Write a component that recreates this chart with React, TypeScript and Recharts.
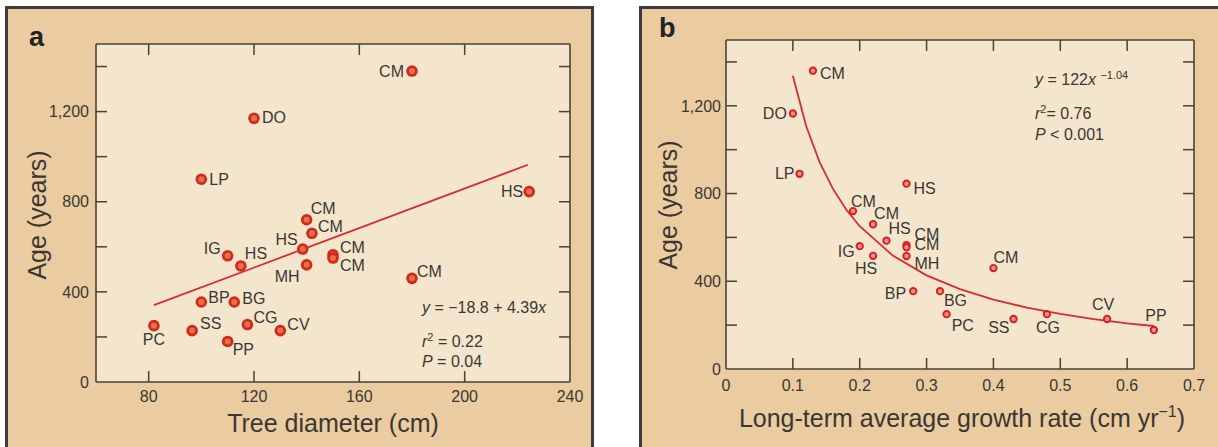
import React from "react";
import { CartesianGrid, Scatter, ScatterChart, XAxis, YAxis } from "recharts";

// Two scatter panels: tree age vs diameter (a) and vs growth rate (b).
// Each panel has a tan card, a paler plot area, inward ticks on all sides.

// ---- panel a: age vs tree diameter ----
const SPECIES_A = ["CM", "DO", "LP", "HS", "CM", "CM", "HS", "MH", "CM", "CM", "CM", "IG", "HS", "BP", "BG", "PC", "SS", "CG", "CV", "PP"];
const DIAMETER_A = [180, 120, 100, 224.5, 140, 142, 138.5, 140, 150, 150, 180, 110, 115, 100, 112.5, 82, 96.5, 117.5, 130, 110];
const AGE_A = [1380, 1170, 900, 845, 720, 660, 590, 520, 565, 550, 460, 560, 515, 355, 355, 250, 228, 255, 228, 180];
const FIT_A_X = [82, 224];
const FIT_A_Y = [341, 964];
const X_TICKS_A = [60, 80, 120, 160, 200, 240];
const Y_TICKS = [0, 200, 400, 600, 800, 1000, 1200, 1400, 1500];

// ---- panel b: age vs long-term growth rate ----
const SPECIES_B = ["CM", "DO", "LP", "HS", "CM", "CM", "HS", "CM", "CM", "MH", "IG", "HS", "BP", "CM", "BG", "PC", "SS", "CG", "CV", "PP"];
const GROWTH_B = [0.13, 0.1, 0.11, 0.27, 0.19, 0.22, 0.24, 0.27, 0.27, 0.27, 0.2, 0.22, 0.28, 0.4, 0.32, 0.33, 0.43, 0.48, 0.57, 0.64];
const AGE_B = [1360, 1165, 890, 845, 720, 660, 585, 565, 555, 515, 560, 516, 355, 460, 355, 250, 228, 250, 228, 178];
const FIT_B_X = [0.1, 0.12, 0.14, 0.16, 0.18, 0.2, 0.25, 0.3, 0.35, 0.4, 0.45, 0.5, 0.55, 0.6, 0.64];
const FIT_B_Y = [1337, 1107, 943, 821, 726, 651, 516, 427, 364, 316, 280, 251, 227, 208, 196];
const X_TICKS_B = [0, 0.1, 0.2, 0.3, 0.4, 0.5, 0.6, 0.7];

// label placement per point: [anchor, dx, dy] (dy = offset of text centre)
type Place = [string, number, number];
const PLACE_A: Place[] = [
  ["end", -8, 0], ["start", 8, -1], ["start", 8, 0], ["end", -6, 0], ["start", 4, -11],
  ["start", 6, -7], ["end", -5, -10], ["end", -7, 12], ["start", 7, -7], ["start", 7, 7],
  ["start", 5, -7], ["end", -7, -7], ["start", 4, -12], ["start", 7, -5], ["start", 8, -4],
  ["middle", 0, 14], ["start", 8, -7], ["start", 6, -7], ["start", 7, -6], ["start", 5, 8],
];
const PLACE_B: Place[] = [
  ["start", 7, 3], ["end", -6, 0], ["end", -5, 0], ["start", 7, 5], ["start", -2, -10],
  ["start", 1, -11], ["start", 2, -12], ["start", 8, -11], ["start", 8, -3], ["start", 8, 7],
  ["end", -5, 5], ["middle", -7, 13], ["end", -7, 2], ["start", 0, -11], ["start", 4, 9],
  ["start", 5, 11], ["end", -4, 9], ["middle", 1, 13], ["middle", -4, -14], ["middle", 2, -14],
];

const FONT = "'Liberation Sans', Arial, Helvetica, sans-serif";
const INK = "#3a3733";
const FRAME = "#4a4038";
const CARD = "#eacca0";
const PLOT = "#f4e6cd";
const RED = "#d52b33";

const pointsA = DIAMETER_A.map((x, i) => ({ x, y: AGE_A[i], name: SPECIES_A[i], place: PLACE_A[i] }));
const pointsB = GROWTH_B.map((x, i) => ({ x, y: AGE_B[i], name: SPECIES_B[i], place: PLACE_B[i] }));
const fitA = FIT_A_X.map((x, i) => ({ x, y: FIT_A_Y[i] }));
const fitB = FIT_B_X.map((x, i) => ({ x, y: FIT_B_Y[i] }));

const labelStyle = { fontFamily: FONT, fontSize: 16, fill: INK };

function PointLabel({ cx, cy, payload }: any) {
  const [anchor, dx, dy] = payload.place as Place;
  return (
    <text x={cx + dx} y={cy + dy + 5.5} textAnchor={anchor as any} style={labelStyle}>
      {payload.name}
    </text>
  );
}

function MarkerA(props: any) {
  const { cx, cy } = props;
  return (
    <g>
      <circle cx={cx} cy={cy} r={5.8} fill="#cf2a1c" />
      <circle cx={cx} cy={cy} r={3} fill="#e7704a" />
      <PointLabel {...props} />
    </g>
  );
}

function MarkerB(props: any) {
  const { cx, cy } = props;
  return (
    <g>
      <circle cx={cx} cy={cy} r={3.2} fill="#ee8f80" stroke="#d41f26" strokeWidth={1.9} />
      <PointLabel {...props} />
    </g>
  );
}

const NoDot = () => <g />;

type Side = "bottom" | "top" | "left" | "right";

// inward tick marks; labels only where asked
function makeTick(side: Side, edges: number[], label: (v: number) => string | null, gap: number) {
  return function Tick(p: any) {
    const v = p.payload.value as number;
    const { x, y } = p;
    const len = 11;
    const edge = edges.includes(v);
    const text = label(v);
    const stroke = { stroke: FRAME, strokeWidth: 1.5 };
    if (side === "bottom") {
      return (
        <g>
          {!edge && <line x1={x} x2={x} y1={y} y2={y - len} {...stroke} />}
          {text != null && (
            <text x={x} y={y + gap} textAnchor="middle" style={labelStyle}>{text}</text>
          )}
        </g>
      );
    }
    if (side === "top") {
      return edge ? <g /> : <line x1={x} x2={x} y1={y} y2={y + len} {...stroke} />;
    }
    if (side === "left") {
      return (
        <g>
          {!edge && <line x1={x} x2={x + len} y1={y} y2={y} {...stroke} />}
          {text != null && (
            <text x={x - gap} y={y + 5.7} textAnchor="end" style={labelStyle}>{text}</text>
          )}
        </g>
      );
    }
    return edge ? <g /> : <line x1={x} x2={x - len} y1={y} y2={y} {...stroke} />;
  };
}

const yLabel = (v: number) => (v % 400 === 0 ? v.toLocaleString("en-US") : null);
const none = () => null;
const axisLine = { stroke: FRAME, strokeWidth: 1.6 };

// axes are 1px thick (a zero-size axis is not drawn); margins allow for it
function Axes({ xTicks, xDomain, xLabel, xGap, yGap }: any) {
  const yEdges = [0, 1500];
  return [
    <XAxis key="xb" type="number" dataKey="x" domain={xDomain} ticks={xTicks} interval={0} height={1}
      allowDataOverflow tickSize={0} tickMargin={0} tickLine={false} axisLine={axisLine}
      tick={makeTick("bottom", xDomain, xLabel, xGap)} />,
    <XAxis key="xt" xAxisId="top" orientation="top" type="number" dataKey="x" domain={xDomain} ticks={xTicks}
      interval={0} height={1} allowDataOverflow tickSize={0} tickMargin={0} tickLine={false} axisLine={axisLine}
      tick={makeTick("top", xDomain, none, 0)} />,
    <YAxis key="yl" type="number" dataKey="y" domain={[0, 1500]} ticks={Y_TICKS} interval={0} width={1}
      allowDataOverflow tickSize={0} tickMargin={0} tickLine={false} axisLine={axisLine}
      tick={makeTick("left", yEdges, yLabel, yGap)} />,
    <YAxis key="yr" yAxisId="right" orientation="right" type="number" dataKey="y" domain={[0, 1500]} ticks={Y_TICKS}
      interval={0} width={1} allowDataOverflow tickSize={0} tickMargin={0} tickLine={false} axisLine={axisLine}
      tick={makeTick("right", yEdges, none, 0)} />,
  ];
}

const abs = (left: number, top: number): React.CSSProperties => ({ position: "absolute", left, top });

const titleStyle: React.CSSProperties = { fontFamily: FONT, fontSize: 25, color: INK, whiteSpace: "nowrap" };
const statStyle: React.CSSProperties = { fontFamily: FONT, fontSize: 16, color: INK, whiteSpace: "nowrap", lineHeight: "20px" };

function Centered({ x, y, rotate, children }: any) {
  return (
    <div style={{ ...abs(x, y), ...titleStyle, transform: `translate(-50%, -50%)${rotate ? " rotate(-90deg)" : ""}` }}>
      {children}
    </div>
  );
}

export default function App() {
  return (
    <div style={{ position: "absolute", left: 0, top: 0, width: 1218, height: 447, background: "#fff", overflow: "hidden" }}>
      {/* cards */}
      <div style={{ ...abs(5, 6), width: 589, height: 460, boxSizing: "border-box", background: CARD,
        borderTop: "3px solid #3c3c3c", borderLeft: "3px solid #3c3c3c", borderRight: "3px solid #3c3c3c" }} />
      <div style={{ ...abs(639, 6), width: 600, height: 460, boxSizing: "border-box", background: CARD,
        borderTop: "3px solid #3c3c3c", borderLeft: "3px solid #3c3c3c" }} />

      {/* panel a */}
      <div style={abs(0, 0)}>
        <ScatterChart width={594} height={447} margin={{ top: 43, right: 23, bottom: 64, left: 95 }}>
          <CartesianGrid fill={PLOT} horizontal={false} vertical={false} />
          {Axes({ xTicks: X_TICKS_A, xDomain: [60, 240], xLabel: (v: number) => (v === 60 ? null : String(v)), xGap: 20, yGap: 7 })}
          <Scatter data={fitA} line={{ stroke: RED, strokeWidth: 1.8 }} shape={NoDot} isAnimationActive={false} />
          <Scatter data={pointsA} shape={MarkerA} isAnimationActive={false} />
        </ScatterChart>
      </div>

      {/* panel b */}
      <div style={abs(600, 0)}>
        <ScatterChart width={618} height={447} margin={{ top: 39, right: 23, bottom: 77, left: 125 }}>
          <CartesianGrid fill={PLOT} horizontal={false} vertical={false} />
          {Axes({ xTicks: X_TICKS_B, xDomain: [0, 0.7], xLabel: (v: number) => String(v), xGap: 22, yGap: 5 })}
          <Scatter data={fitB} line={{ stroke: RED, strokeWidth: 1.8 }} shape={NoDot} isAnimationActive={false} />
          <Scatter data={pointsB} shape={MarkerB} isAnimationActive={false} />
        </ScatterChart>
      </div>

      {/* panel letters */}
      <div style={{ ...abs(29, 22), fontFamily: FONT, fontSize: 27, fontWeight: 700, color: "#222" }}>a</div>
      <div style={{ ...abs(659, 13), fontFamily: FONT, fontSize: 27, fontWeight: 700, color: "#222" }}>b</div>

      {/* axis titles */}
      <Centered x={37} y={215} rotate>Age (years)</Centered>
      <Centered x={333} y={423}>Tree diameter (cm)</Centered>
      <Centered x={668} y={205} rotate>Age (years)</Centered>
      <Centered x={962} y={418}>
        Long-term average growth rate (cm yr<sup style={{ fontSize: 16 }}>−1</sup>)
      </Centered>

      {/* fit statistics */}
      <div style={{ ...abs(422, 298), ...statStyle }}>
        <div><i>y</i> = −18.8 + 4.39<i>x</i></div>
        <div style={{ marginTop: 9 }}><i>r</i><sup style={{ fontSize: 11 }}>2</sup> = 0.22</div>
        <div><i>P</i> = 0.04</div>
      </div>
      <div style={{ ...abs(1035, 65), ...statStyle }}>
        <div><i>y</i> = 122<i>x</i> <sup style={{ fontSize: 11 }}>−1.04</sup></div>
        <div style={{ marginTop: 9 }}><i>r</i><sup style={{ fontSize: 11 }}>2</sup>= 0.76</div>
        <div><i>P</i> &lt; 0.001</div>
      </div>
    </div>
  );
}
